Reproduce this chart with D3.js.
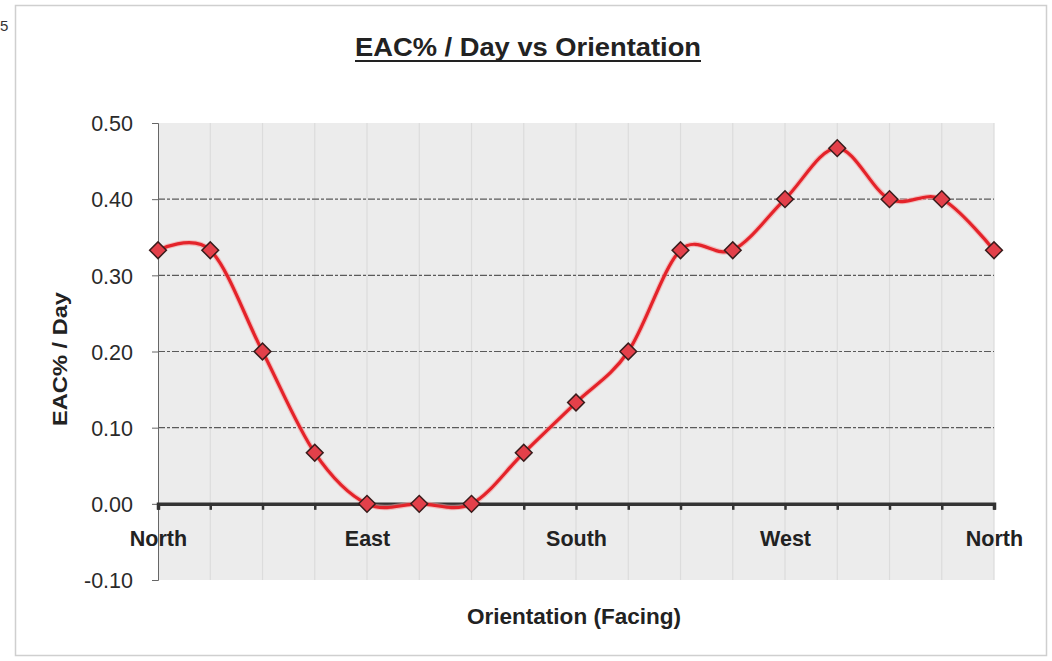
<!DOCTYPE html>
<html>
<head>
<meta charset="utf-8">
<script src="https://cdn.jsdelivr.net/npm/d3@7"></script>
<style>
  html, body { margin: 0; padding: 0; background: #fff; }
  svg { display: block; font-family: "Liberation Sans", Arial, sans-serif; }
</style>
</head>
<body>
<svg id="chart" width="1052" height="661"></svg>
<script>
// Orientation steps from North round to North (16 equal steps)
const orientations = ["North", "", "", "", "East", "", "", "", "South", "", "", "", "West", "", "", "", "North"];
// EAC% per day at each orientation
const eacPerDay = [0.333, 0.333, 0.200, 0.067, 0.000, 0.000, 0.000, 0.067, 0.133, 0.200, 0.333, 0.333, 0.400, 0.467, 0.400, 0.400, 0.333];
// Value axis ticks
const yTicks = [-0.10, 0.00, 0.10, 0.20, 0.30, 0.40, 0.50];

const svg = d3.select("#chart");
const plot = { left: 158, right: 994, top: 123, bottom: 580 };

// Outer chart frame
svg.append("rect")
  .attr("x", 15.5).attr("y", 5.5).attr("width", 1031).attr("height", 650)
  .attr("fill", "#fff").attr("stroke", "#cfcfcf").attr("stroke-width", 1.5);

// page number at the margin
svg.append("text").attr("x", 0).attr("y", 31)
  .attr("font-size", 15).attr("fill", "#333").text("5");

const idx = d3.range(eacPerDay.length);
const x = d3.scalePoint().domain(idx).range([plot.left, plot.right]);
const y = d3.scaleLinear().domain([-0.10, 0.50]).range([plot.bottom, plot.top]);

// Plot background
svg.append("rect")
  .attr("x", plot.left).attr("y", plot.top)
  .attr("width", plot.right - plot.left).attr("height", plot.bottom - plot.top)
  .attr("fill", "#ececec");

// Faint vertical grid at each orientation
svg.append("g").selectAll("line").data(idx.slice(1)).join("line")
  .attr("x1", d => x(d)).attr("x2", d => x(d))
  .attr("y1", plot.top).attr("y2", plot.bottom)
  .attr("stroke", "#dcdcdc").attr("stroke-width", 1.2);

// Horizontal dashed grid
svg.append("g").selectAll("line").data(yTicks.filter(v => v > 0 && v < 0.5)).join("line")
  .attr("x1", plot.left).attr("x2", plot.right)
  .attr("y1", d => y(d)).attr("y2", d => y(d))
  .attr("stroke", "#5a5a5a").attr("stroke-width", 1.1)
  .attr("stroke-dasharray", "7,2,3,2");

// Value axis
const yAxis = d3.axisLeft(y).tickValues(yTicks).tickFormat(d => d.toFixed(2)).tickSize(6).tickPadding(19);
const gy = svg.append("g").attr("transform", `translate(${plot.left},0)`).call(yAxis);
gy.select(".domain").attr("stroke", "#666").attr("stroke-width", 1);
gy.selectAll(".tick line").attr("stroke", "#666");
gy.selectAll(".tick text").attr("font-size", 21.5).attr("fill", "#2a2a2a")
  .attr("dy", "0.36em");

// Orientation axis on the zero line
const xAxis = d3.axisBottom(x).tickSize(6).tickFormat(d => orientations[d]).tickPadding(21);
const gx = svg.append("g").attr("transform", `translate(0,${y(0)})`).call(xAxis);
gx.select(".domain").attr("stroke", "#333").attr("stroke-width", 3.5);
gx.selectAll(".tick line").attr("stroke", "#333").attr("stroke-width", 2.5);
gx.selectAll(".tick text").attr("font-size", 21.5).attr("font-weight", "bold").attr("fill", "#222");

// Smoothed data line
const line = d3.line()
  .x((d, i) => x(i)).y(d => y(d))
  .curve(d3.curveCatmullRom.alpha(0));
svg.append("path").datum(eacPerDay)
  .attr("d", line).attr("fill", "none")
  .attr("stroke", "#f3a0a0").attr("stroke-width", 5.5).attr("stroke-opacity", 0.6);
svg.append("path").datum(eacPerDay)
  .attr("d", line).attr("fill", "none")
  .attr("stroke", "#e4232a").attr("stroke-width", 3.2);

// Diamond markers
svg.append("g").selectAll("path").data(eacPerDay).join("path")
  .attr("d", d3.symbol().type(d3.symbolSquare).size(140))
  .attr("transform", (d, i) => `translate(${x(i)},${y(d)}) rotate(45)`)
  .attr("fill", "#e3404a").attr("stroke", "#3a1c1c").attr("stroke-width", 1.5);

// Title
const title = svg.append("text")
  .attr("x", 528).attr("y", 56).attr("text-anchor", "middle")
  .attr("font-size", 26).attr("font-weight", "bold").attr("fill", "#222")
  .attr("textLength", 346).attr("lengthAdjust", "spacingAndGlyphs")
  .text("EAC% / Day vs Orientation");
const tb = title.node().getBBox();
svg.append("line")
  .attr("x1", tb.x).attr("x2", tb.x + tb.width)
  .attr("y1", 61).attr("y2", 61)
  .attr("stroke", "#222").attr("stroke-width", 2.2);

// Axis titles
svg.append("text")
  .attr("transform", "translate(67,359) rotate(-90)")
  .attr("text-anchor", "middle").attr("font-size", 20).attr("font-weight", "bold").attr("fill", "#222")
  .attr("textLength", 134).attr("lengthAdjust", "spacingAndGlyphs")
  .text("EAC% / Day");
svg.append("text")
  .attr("x", 574).attr("y", 624).attr("text-anchor", "middle")
  .attr("font-size", 22).attr("font-weight", "bold").attr("fill", "#222")
  .attr("textLength", 214).attr("lengthAdjust", "spacingAndGlyphs")
  .text("Orientation (Facing)");
</script>
</body>
</html>
